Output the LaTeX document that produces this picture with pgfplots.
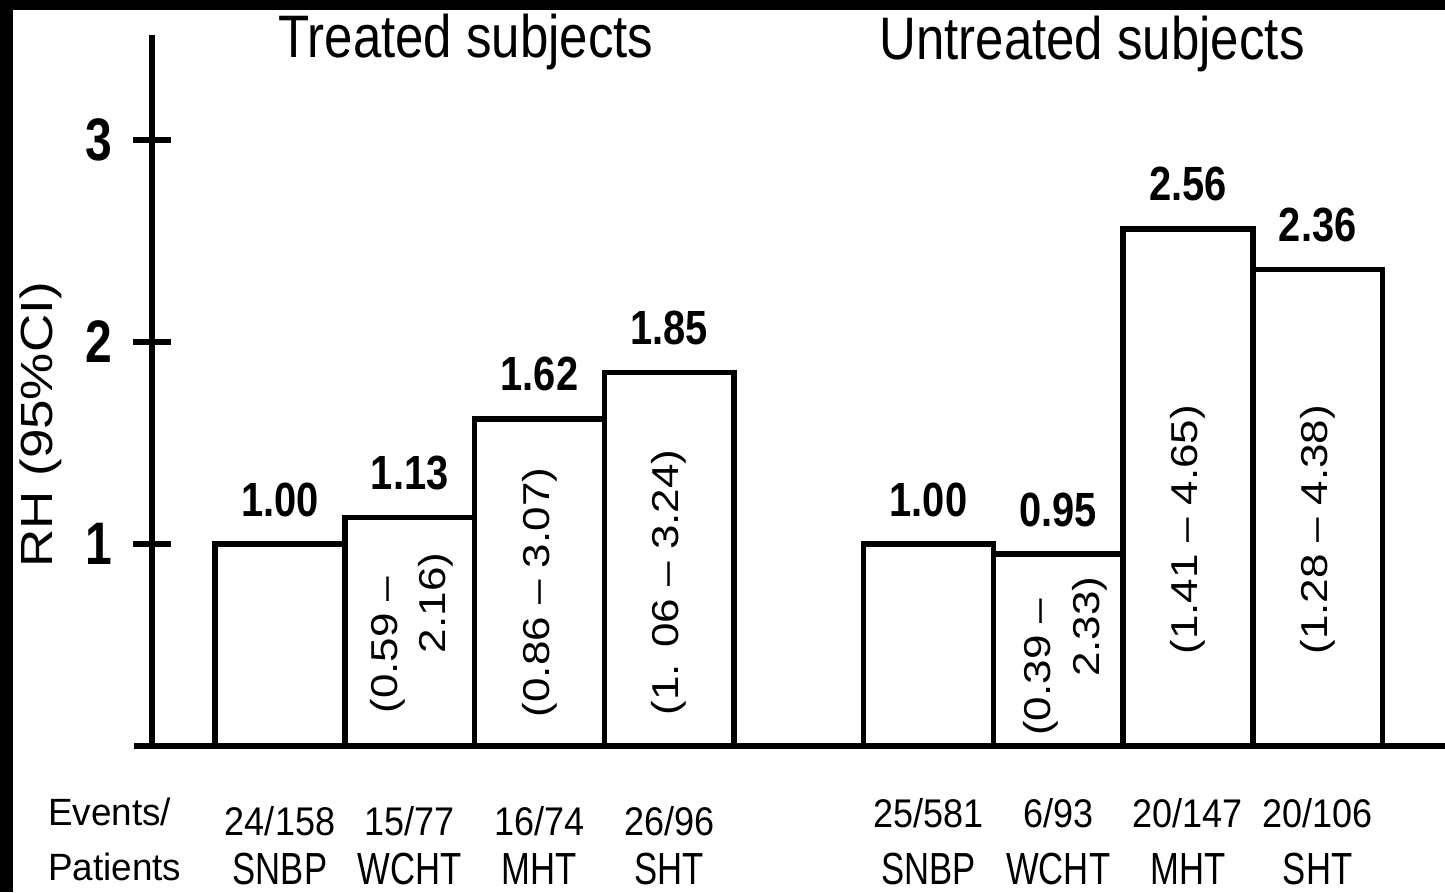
\documentclass[border=0pt]{standalone}
\usepackage{fontspec}
\setmainfont{Liberation Sans}
\usepackage{graphicx}
\usepackage{pgfplots}
\pgfplotsset{compat=1.18}
\usepackage{pgfplotstable}

\pgfplotstableread{
x y lab
0 1.00 1.00
1 1.13 1.13
2 1.62 1.62
3 1.85 1.85
}\treated
\pgfplotstableread{
x y lab
5 1.00 1.00
6 0.95 0.95
7 2.56 2.56
8 2.36 2.36
}\untreated

\newcommand{\rowone}[1]{{\fontsize{40}{48}\selectfont\scalebox{0.9}[1]{#1}}}
\newcommand{\rowtwo}[1]{{\fontsize{45}{54}\selectfont\scalebox{0.77}[1]{#1}}}
\newcommand{\cat}[3]{\makebox[0pt][c]{\raisebox{#1}{\rowone{#2}}}\makebox[0pt][c]{\rowtwo{#3}}}
\tikzset{ci/.style={xscale=0.85, rotate=90, font=\fontsize{44}{52}\selectfont, inner sep=0pt}}

\begin{document}
\begin{tikzpicture}[x=1pt,y=1pt]
\fill[black] (0,0) rectangle (1445,892);
\fill[white] (13,0) rectangle (1445,882);
\begin{axis}[
  at={(152pt,146pt)}, anchor=south west,
  x=129.7pt, y=202pt,
  xmin=-0.987, xmax=8.98, ymin=0, ymax=3.52,
  clip=false,
  axis y line=left, axis x line=bottom,
  axis line style={-, line width=6pt, black},
  x axis line style={shorten <=-18pt},
  ytick={1,2,3}, yticklabels={1,2,3},
  ytick align=center, major tick length=37pt,
  ytick style={line width=6pt, black},
  yticklabel style={font=\fontsize{60}{72}\selectfont\bfseries, anchor=east, inner sep=0pt, xscale=0.8, xshift=-27pt},
  xtick={0,1,2,3,5,6,7,8},
  xticklabels={\cat{49pt}{24/158}{SNBP},\cat{49pt}{15/77}{WCHT},\cat{49pt}{16/74}{MHT},\cat{49pt}{26/96}{SHT},
               \cat{57pt}{25/581}{SNBP},\cat{57pt}{6/93}{WCHT},\cat{57pt}{20/147}{MHT},\cat{57pt}{20/106}{SHT}},
  xtick align=inside,
  xtick style={draw=none},
  xticklabel style={anchor=base, inner sep=0pt, yshift=-101pt},
  ybar, bar width=1,
  every node near coord/.append style={anchor=base, yshift=28pt, font=\fontsize{48}{56}\selectfont\bfseries, xscale=0.83, inner sep=0pt},
]
\addplot[bar shift=0pt, fill=white, draw=black, line width=5.5pt, nodes near coords, point meta=explicit symbolic]
  table[x=x, y=y, meta=lab] {\treated};
\addplot[bar shift=0pt, fill=white, draw=black, line width=5.5pt, nodes near coords, point meta=explicit symbolic]
  table[x=x, y=y, meta=lab] {\untreated};
\node[ci] at (axis cs:0.833,0.5) {(0.59 –};
\node[ci] at (axis cs:1.203,0.708) {2.16)};
\node[ci] at (axis cs:2,0.76) {(0.86 – 3.07)};
\node[ci] at (axis cs:3,0.81) {(1. 06 – 3.24)};
\node[ci] at (axis cs:5.867,0.39) {(0.39 –};
\node[ci] at (axis cs:6.245,0.59) {2.33)};
\node[ci] at (axis cs:7,1.07) {(1.41 – 4.65)};
\node[ci] at (axis cs:8,1.07) {(1.28 – 4.38)};
\end{axis}
\node[anchor=base, xscale=0.85, inner sep=0pt, font=\fontsize{60}{72}\selectfont] at (466,834) {Treated subjects};
\node[anchor=base, xscale=0.85, inner sep=0pt, font=\fontsize{60}{72}\selectfont] at (1092,832) {Untreated subjects};
\node[xscale=0.85, rotate=90, inner sep=0pt, font=\fontsize{53}{60}\selectfont] at (41,467) {RH (95\%CI)};
\node[anchor=base west, xscale=0.97, inner sep=0pt, font=\fontsize{38}{44}\selectfont] at (48,67) {Events/};
\node[anchor=base west, xscale=0.97, inner sep=0pt, font=\fontsize{38}{44}\selectfont] at (48,12) {Patients};
\pgfresetboundingbox
\useasboundingbox (0,0) rectangle (1445,892);
\end{tikzpicture}
\end{document}
